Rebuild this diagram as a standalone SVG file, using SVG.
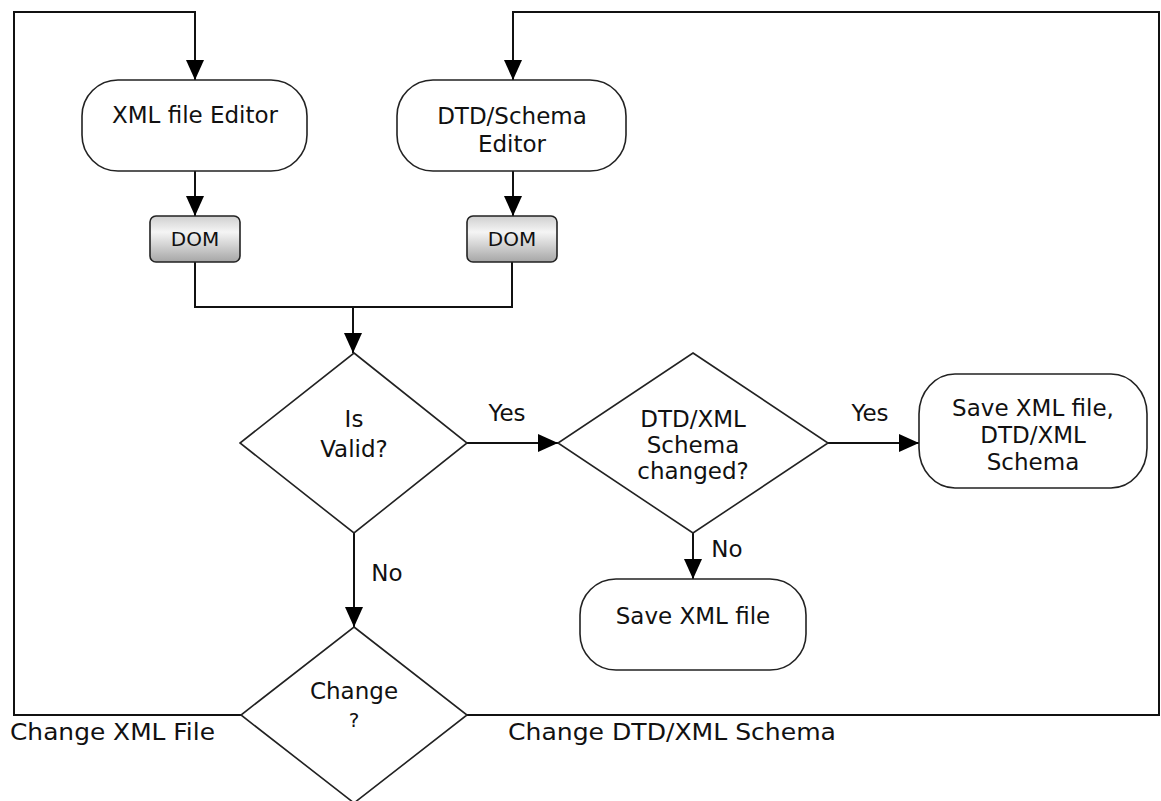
<svg xmlns="http://www.w3.org/2000/svg" width="1161" height="801" viewBox="0 0 1161 801">
<style>
.t{font-family:"DejaVu Sans","Verdana",sans-serif;font-size:23px;fill:#111;text-anchor:middle}
.l{font-family:"DejaVu Sans","Verdana",sans-serif;font-size:23px;fill:#111}
.term{fill:#fff;stroke:#222;stroke-width:1.6}
.dec{fill:#fff;stroke:#222;stroke-width:1.6}
.dom{fill:url(#g);stroke:#222;stroke-width:1.6}
.c{fill:none;stroke:#111;stroke-width:2}
.a{marker-end:url(#ah)}
</style>
<defs>
<linearGradient id="g" x1="0" y1="0" x2="0" y2="1">
<stop offset="0" stop-color="#cfcfcf"/>
<stop offset="0.35" stop-color="#f5f5f5"/>
<stop offset="1" stop-color="#a6a6a6"/>
</linearGradient>
<marker id="ah" viewBox="0 0 20 18" refX="20" refY="9" markerWidth="20" markerHeight="18" orient="auto" markerUnits="userSpaceOnUse">
<path d="M0,0 L20,9 L0,18 z" fill="#000"/>
</marker>
</defs>
<rect width="1161" height="801" fill="#fff"/>
<g id="connectors">
<path class="c a" d="M241,715 H14 V12 H195 V80"/>
<path class="c a" d="M467,715 H1159 V12 H513 V80"/>
<path class="c a" d="M195,171 V216"/>
<path class="c a" d="M513,171 V216"/>
<path class="c" d="M195,262 V307 H512 V262"/>
<path class="c a" d="M353,307 V353"/>
<path class="c a" d="M467,443 H558"/>
<path class="c a" d="M828,443 H919"/>
<path class="c a" d="M693,533 V579"/>
<path class="c a" d="M354,533 V627"/>
<text class="t" x="507" y="421">Yes</text>
<text class="t" x="870" y="421">Yes</text>
<text class="t" x="387" y="581">No</text>
<text class="t" x="727" y="557">No</text>
<text class="l" x="10" y="740" textLength="205" lengthAdjust="spacingAndGlyphs">Change XML File</text>
<text class="l" x="508" y="740" textLength="328" lengthAdjust="spacingAndGlyphs">Change DTD/XML Schema</text>
</g>
<g id="xml-editor">
<rect class="term" x="82" y="80" width="225" height="91" rx="36" ry="36"/>
<text class="t" x="195" y="123">XML file Editor</text>
</g>
<g id="dtd-editor">
<rect class="term" x="397" y="80" width="229" height="91" rx="36" ry="36"/>
<text class="t" x="512" y="124">DTD/Schema</text>
<text class="t" x="512" y="152">Editor</text>
</g>
<g id="dom1">
<rect class="dom" x="150" y="216" width="90" height="46" rx="6" ry="6"/>
<text class="t" x="195" y="246" style="font-size:20px">DOM</text>
</g>
<g id="dom2">
<rect class="dom" x="467" y="216" width="90" height="46" rx="6" ry="6"/>
<text class="t" x="512" y="246" style="font-size:20px">DOM</text>
</g>
<g id="is-valid">
<polygon class="dec" points="354,353 467,443 354,533 240,443"/>
<text class="t" x="354" y="427">Is</text>
<text class="t" x="354" y="457">Valid?</text>
</g>
<g id="schema-changed">
<polygon class="dec" points="693,353 828,443 693,533 558,443"/>
<text class="t" x="693" y="427">DTD/XML</text>
<text class="t" x="693" y="453">Schema</text>
<text class="t" x="693" y="479">changed?</text>
</g>
<g id="save-both">
<rect class="term" x="919" y="374" width="228" height="114" rx="36" ry="40"/>
<text class="t" x="1033" y="416">Save XML file,</text>
<text class="t" x="1033" y="443">DTD/XML</text>
<text class="t" x="1033" y="470">Schema</text>
</g>
<g id="save-xml">
<rect class="term" x="580" y="579" width="226" height="91" rx="36" ry="36"/>
<text class="t" x="693" y="624">Save XML file</text>
</g>
<g id="change">
<polygon class="dec" points="354,627 467,715 354,803 241,715"/>
<text class="t" x="354" y="699">Change</text>
<text class="t" x="354" y="727" style="font-size:20px">?</text>
</g>
</svg>
